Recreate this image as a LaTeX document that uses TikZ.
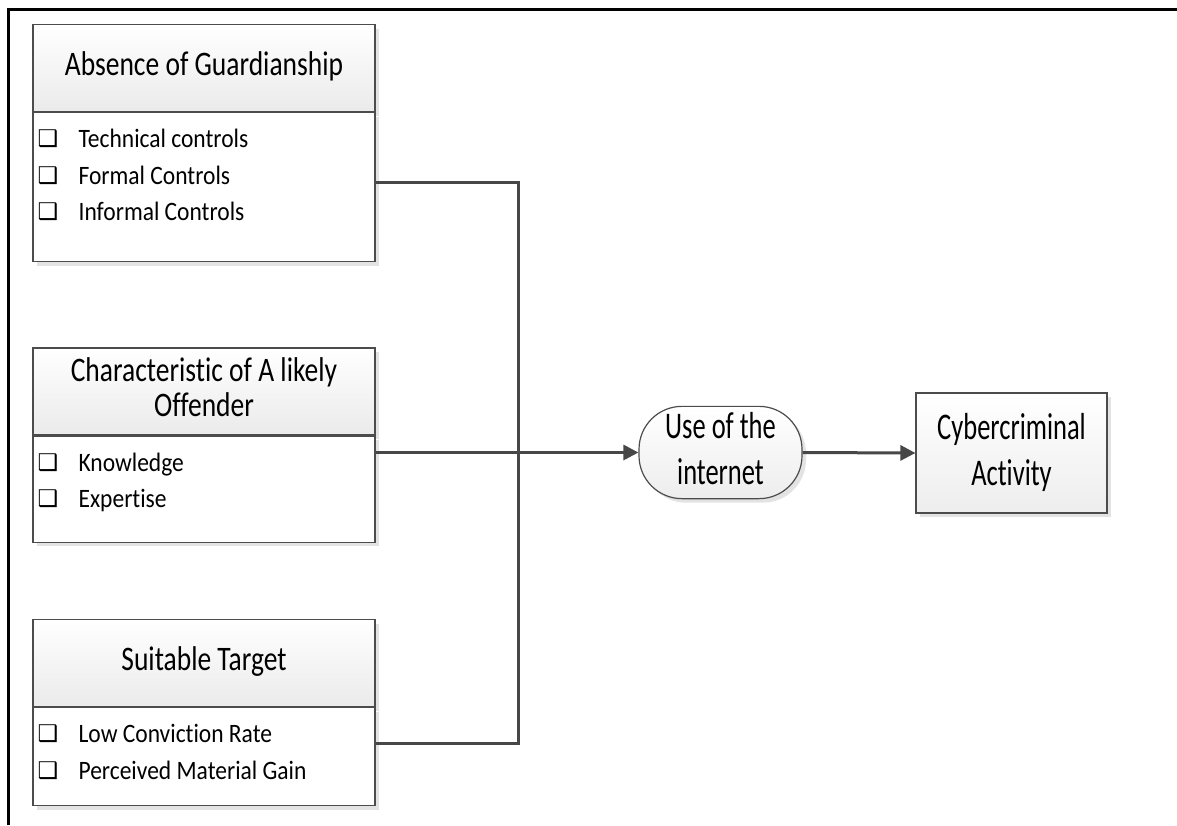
\documentclass[tikz,border=0pt]{standalone}
\usepackage{fontspec}
\setmainfont{Carlito}[Ligatures=NoCommon]
\newfontfamily\symfont{DejaVu Sans}
\usepackage{tikz}
\usetikzlibrary{positioning,shadows,arrows.meta,calc}
\tikzstyle{boxshadow}=[drop shadow={shadow xshift=4pt,shadow yshift=-4pt,fill=gray!22,opacity=1}]
\tikzstyle{headbox}=[draw=gray!60!black, line width=1.2pt, top color=white, bottom color=gray!16,
  minimum width=342pt, minimum height=87pt, inner sep=0pt, align=center,
  font=\fontsize{27.5}{28}\selectfont, boxshadow]
\tikzstyle{listbox}=[draw=gray!60!black, line width=1.2pt, fill=white, minimum width=342pt,
  inner sep=0pt, boxshadow]
\tikzstyle{flowbox}=[draw=gray!60!black, line width=1.2pt, top color=white, bottom color=gray!14,
  inner sep=0pt, align=center, font=\fontsize{26.5}{32.5}\selectfont, boxshadow]
\tikzstyle{itemtext}=[anchor=west, inner sep=0pt, font=\fontsize{23.5}{24}\selectfont]
\tikzstyle{itembox}=[anchor=west, inner sep=0pt, font=\symfont\fontsize{23}{23}\selectfont]
\tikzstyle{link}=[line width=3pt, draw=black!72]
% text in the picture is drawn taller than wide
\newcommand{\talltext}[2]{\scalebox{1}[#1]{\begin{tabular}{@{}c@{}}#2\end{tabular}}}
\newcommand{\itemlist}[2]{
 \foreach \txt [count=\i] in {#2}{
  \node[itembox] (#1box\i) at ($(#1.north west)+(5,27+36.5*\i-36.5)$) {❑};
  \node[itemtext] (#1txt\i) at ($(#1.north west)+(46,30+36.5*\i-36.5)$) {\talltext{1.13}{\txt}};
 }
}

\begin{document}
\begin{tikzpicture}[x=1pt,y=-1pt]
 \useasboundingbox (0,0) rectangle (1177,825);
 \draw[line width=3pt] (8,825) -- (8,9) -- (1177,9);
%
 \node[headbox] (guard) at (204,68) {\talltext{1.25}{Absence of Guardianship}};
 \node[listbox, minimum height=149pt, below=0pt of guard] (guardlist) {};
 \itemlist{guardlist}{Technical controls, Formal Controls, Informal Controls}
%
 \node[headbox] (offend) at (204,391.5) {\talltext{1.25}{Characteristic of A likely\\Offender}};
 \node[listbox, minimum height=106pt, below=0pt of offend] (offendlist) {};
 \itemlist{offendlist}{Knowledge, Expertise}
%
 \node[headbox] (target) at (204,663) {\talltext{1.25}{Suitable Target}};
 \node[listbox, minimum height=98pt, below=0pt of target] (targetlist) {};
 \itemlist{targetlist}{Low Conviction Rate, Perceived Material Gain}
%
 \node[flowbox, minimum width=163pt, minimum height=87pt, rounded corners=43pt] (use) at (720.5,452.5) {\talltext{1.42}{Use of the\\internet}};
 \node[flowbox, minimum width=191pt, minimum height=120pt] (cyber) at (1011.5,453) {\talltext{1.42}{Cybercriminal\\Activity}};
%
 \coordinate (jtop) at (518,182);
 \coordinate (jbot) at (518,743);
 \draw[link] (guardlist.east |- jtop) -- (jtop) -- (jbot) -- (targetlist.east |- jbot);
 \draw[link,-{Triangle[length=15pt,width=15pt]}] (offendlist.east |- use.west) -- (use.west);
 \draw[link,-{Triangle[length=15pt,width=15pt]}] (use.east) -- (cyber.west);
\end{tikzpicture}
\end{document}
